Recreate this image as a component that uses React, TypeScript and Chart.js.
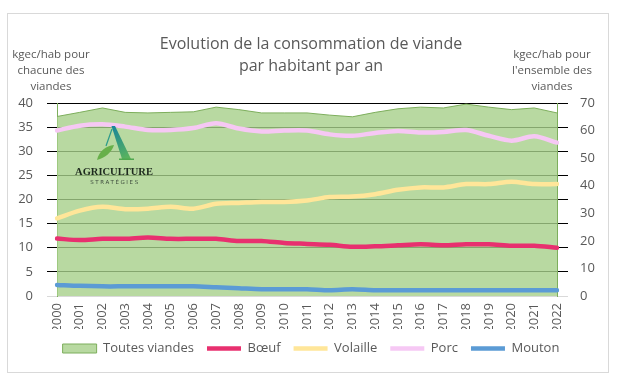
import React, { useEffect, useRef } from 'react';
import { Chart, registerables } from 'chart.js';

Chart.register(...registerables);

const years = ['2000','2001','2002','2003','2004','2005','2006','2007','2008','2009','2010','2011','2012','2013','2014','2015','2016','2017','2018','2019','2020','2021','2022'];

// right axis (all meats)
const toutesViandes = [65.1, 66.6, 68.2, 66.6, 66.4, 66.6, 66.8, 68.5, 67.6, 66.4, 66.4, 66.4, 65.6, 65.0, 66.6, 67.9, 68.5, 68.2, 69.6, 68.5, 67.6, 68.2, 66.4];
// left axis (each meat)
const boeuf = [11.9, 11.6, 11.85, 11.85, 12.1, 11.85, 11.85, 11.85, 11.4, 11.4, 11.0, 10.8, 10.6, 10.2, 10.3, 10.5, 10.7, 10.5, 10.7, 10.7, 10.4, 10.4, 10.0];
const volaille = [16.1, 17.7, 18.5, 18.0, 18.1, 18.5, 18.1, 19.1, 19.3, 19.5, 19.5, 19.8, 20.5, 20.6, 21.1, 22.0, 22.5, 22.5, 23.2, 23.2, 23.7, 23.2, 23.2];
const porc = [34.3, 35.3, 35.6, 35.1, 34.4, 34.4, 34.8, 35.8, 34.7, 34.1, 34.3, 34.3, 33.5, 33.2, 33.8, 34.2, 33.9, 34.0, 34.4, 33.2, 32.2, 33.1, 31.8];
const mouton = [2.3, 2.1, 2.0, 2.0, 2.0, 2.0, 2.0, 1.8, 1.6, 1.4, 1.4, 1.4, 1.2, 1.4, 1.2, 1.2, 1.2, 1.2, 1.2, 1.2, 1.2, 1.2, 1.2];

const titleLines = ['Evolution de la consommation de viande', 'par habitant par an'];
const leftAxisTitle = ['kgec/hab pour', 'chacune des', 'viandes'];
const rightAxisTitle = ['kgec/hab pour', "l'ensemble des", 'viandes'];

const FONT = "'Open Sans', 'Noto Sans', sans-serif";
const TEXT = '#595959';
const AREA_BORDER = '#7DAE5C';

const gridColor = (ctx: any) => (ctx.tick && ctx.tick.value === 0 ? '#D9D9D9' : '#000000');

const decorations = {
  id: 'decorations',
  beforeDraw(chart: any) {
    const ctx = chart.ctx;
    ctx.save();
    ctx.fillStyle = '#ffffff';
    ctx.fillRect(0, 0, chart.width, chart.height);
    ctx.restore();
  },
  afterDraw(chart: any) {
    const ctx = chart.ctx;
    ctx.save();
    // outer border
    ctx.strokeStyle = '#D9D9D9';
    ctx.lineWidth = 1;
    ctx.strokeRect(7.5, 13.5, 601, 359);

    // axis titles
    ctx.fillStyle = TEXT;
    ctx.font = `11.5px ${FONT}`;
    ctx.textAlign = 'center';
    ctx.textBaseline = 'middle';
    leftAxisTitle.forEach((t, i) => ctx.fillText(t, 51, 55 + i * 16));
    rightAxisTitle.forEach((t, i) => ctx.fillText(t, 552, 55 + i * 16));

    // logo
    const g = ctx.createLinearGradient(112, 126, 128, 160);
    g.addColorStop(0, '#17849c');
    g.addColorStop(1, '#5db55a');
    ctx.fillStyle = g;
    ctx.beginPath();
    ctx.moveTo(111.5, 126);
    ctx.lineTo(115, 126);
    ctx.lineTo(131, 159);
    ctx.lineTo(122, 159);
    ctx.closePath();
    ctx.fill();
    ctx.strokeStyle = '#2a9a8a';
    ctx.lineWidth = 1.2;
    ctx.beginPath();
    ctx.moveTo(112, 129);
    ctx.lineTo(106, 146);
    ctx.stroke();
    ctx.fillStyle = '#4fa84f';
    ctx.fillRect(119, 158.5, 15, 1.5);
    ctx.fillStyle = '#68b04a';
    ctx.beginPath();
    ctx.moveTo(97, 160);
    ctx.bezierCurveTo(99, 151, 106, 146, 114, 145);
    ctx.bezierCurveTo(112, 152, 105, 158, 97, 160);
    ctx.fill();
    ctx.fillStyle = '#1e2a1e';
    ctx.font = "bold 10.5px 'Liberation Serif', serif";
    ctx.textAlign = 'center';
    ctx.textBaseline = 'middle';
    ctx.fillText('AGRICULTURE', 114, 172);
    ctx.fillStyle = '#3c4a3c';
    ctx.font = "5.5px 'DejaVu Sans', sans-serif";
    (ctx as any).letterSpacing = '1.6px';
    ctx.fillText('STRATÉGIES', 115, 183);
    ctx.restore();
  },
};

export default function App() {
  const ref = useRef<HTMLCanvasElement>(null);
  useEffect(() => {
    const lineDs = (label: string, data: number[], color: string, order: number) => ({
      type: 'line' as const,
      label,
      data,
      yAxisID: 'y',
      borderColor: color,
      backgroundColor: color,
      borderWidth: 4.5,
      borderCapStyle: 'round' as const,
      borderJoinStyle: 'round' as const,
      pointRadius: 0,
      pointHoverRadius: 0,
      pointStyle: 'line',
      tension: 0.3,
      fill: false,
      order,
    });
    const chart = new Chart(ref.current!, {
      type: 'line',
      data: {
        labels: years,
        datasets: [
          {
            type: 'line',
            label: 'Toutes viandes',
            data: toutesViandes,
            yAxisID: 'y1',
            fill: 'origin',
            backgroundColor: 'rgba(166,207,138,0.8)',
            borderColor: AREA_BORDER,
            borderWidth: 1,
            pointRadius: 0,
            pointHoverRadius: 0,
            pointStyle: 'rect',
            tension: 0,
            order: 10,
          },
          lineDs('Bœuf', boeuf, '#E8306F', 1),
          lineDs('Volaille', volaille, '#FFE699', 2),
          lineDs('Porc', porc, '#F6C8F4', 3),
          lineDs('Mouton', mouton, '#5B9BD5', 4),
        ] as any,
      },
      options: {
        responsive: false,
        animation: false,
        events: [],
        layout: { padding: { top: 0, left: 0, right: 0, bottom: 13 } },
        plugins: {
          title: {
            display: true,
            text: titleLines,
            color: TEXT,
            font: { family: FONT, size: 16, weight: 'normal', lineHeight: 1.375 },
            padding: { top: 33, bottom: 26 },
          },
          legend: {
            position: 'bottom',
            labels: {
              usePointStyle: true,
              pointStyleWidth: 34,
              boxHeight: 9,
              padding: 13,
              color: TEXT,
              font: { family: FONT, size: 13 },
              sort: (a: any, b: any) => a.datasetIndex - b.datasetIndex,
            },
          },
          tooltip: { enabled: false },
        },
        scales: {
          x: {
            type: 'category',
            offset: false,
            grid: { display: false, drawTicks: false },
            border: { display: true, color: '#D9D9D9' },
            ticks: {
              color: TEXT,
              font: { family: FONT, size: 13 },
              maxRotation: 90,
              minRotation: 90,
              autoSkip: false,
              padding: 7,
            },
            afterFit: (s: any) => { s.height = 33; },
          },
          y: {
            position: 'left',
            min: 0,
            max: 40,
            ticks: { stepSize: 5, color: TEXT, font: { family: FONT, size: 13 }, padding: 14 },
            grid: { color: gridColor, tickLength: 10, lineWidth: 1 },
            border: { display: true, color: AREA_BORDER },
            afterFit: (s: any) => { s.width = 57; },
          },
          y2: {
            position: 'right',
            weight: 0,
            min: 0,
            max: 40,
            ticks: { stepSize: 5, callback: () => '', padding: 0 },
            grid: { color: gridColor, tickLength: 11, drawOnChartArea: false, lineWidth: 1 },
            border: { display: true, color: AREA_BORDER },
            afterFit: (s: any) => { s.width = 11; },
          },
          y1: {
            position: 'right',
            weight: 1,
            min: 0,
            max: 70,
            ticks: { stepSize: 10, color: TEXT, font: { family: FONT, size: 13 }, padding: 12 },
            grid: { display: false, drawTicks: false },
            border: { display: false },
            afterFit: (s: any) => { s.width = 54; },
          },
        },
      } as any,
      plugins: [decorations],
    });
    return () => chart.destroy();
  }, []);
  return (
    <div style={{ position: 'fixed', left: 0, top: 0, width: 622, height: 378, background: '#fff' }}>
      <canvas ref={ref} width={622} height={378} style={{ width: 622, height: 378, display: 'block' }} />
    </div>
  );
}
